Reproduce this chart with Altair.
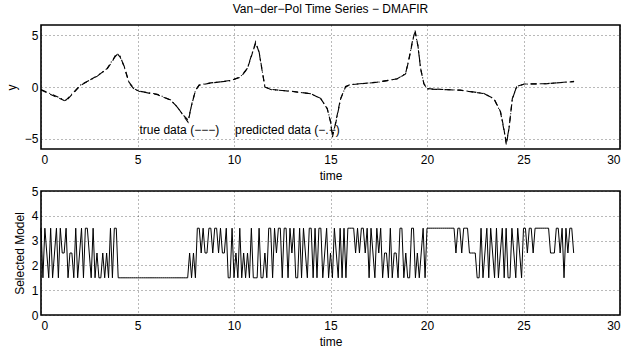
import altair as alt
import pandas as pd

# ---------------- top panel: Van-der-Pol time series ----------------
T_TIME = [0.0, 1.28, 2.05, 2.92, 3.43, 3.7, 3.92, 4.1, 4.3, 4.56, 4.82, 5.08,
          6.03, 6.72, 7.06, 7.41, 7.62, 7.84, 8.01, 8.19, 8.79, 9.82, 10.34,
          10.69, 10.91, 11.12, 11.3, 11.47, 11.6, 11.9, 12.93, 13.97, 14.49,
          14.83, 15.0, 15.1, 15.25, 15.52, 15.78, 16.04, 17.43, 18.46, 18.89,
          19.07, 19.24, 19.38, 19.53, 19.67, 19.84, 20.02, 21.74, 22.95, 23.47,
          23.81, 23.98, 24.11, 24.25, 24.42, 24.64, 25.03, 26.23, 27.62]
Y_TRUE = [-0.3, -1.37, 0.15, 1.1, 1.75, 2.5, 3.3, 2.9, 2.06, 0.47, -0.16, -0.42,
          -0.74, -1.28, -1.91, -2.87, -3.4, -1.43, -0.32, 0.16, 0.38, 0.63, 0.95,
          1.75, 3.02, 4.36, 3.34, 1.43, 0.0, -0.23, -0.42, -0.64, -1.12,
          -2.07, -3.4, -4.85, -3.6, -1.12, 0.0, 0.22, 0.47, 0.79, 1.27,
          2.7, 4.3, 5.5, 3.97, 1.75, 0.32, -0.16, -0.32, -0.64, -1.12,
          -2.39, -3.98, -5.6, -3.98, -1.12, 0.0, 0.29, 0.32, 0.54]
Y_PRED = [-0.25, -1.3, 0.2, 1.05, 1.8, 2.6, 3.1, 3.0, 2.0, 0.4, -0.2, -0.4,
          -0.7, -1.25, -1.95, -2.8, -3.2, -1.5, -0.3, 0.2, 0.4, 0.6, 1.0,
          1.8, 3.1, 4.2, 3.4, 1.5, 0.05, -0.25, -0.4, -0.66, -1.1,
          -2.1, -3.3, -4.6, -3.7, -1.2, 0.05, 0.25, 0.45, 0.8, 1.3,
          2.8, 4.4, 5.3, 4.0, 1.8, 0.3, -0.2, -0.3, -0.62, -1.15,
          -2.45, -4.1, -5.4, -4.0, -1.2, 0.05, 0.27, 0.33, 0.52]

# ---------------- bottom panel: selected model (sampled every 0.1 time units) ----------------
MODEL_STEP = 0.1
MODEL_ROWS = [
    [3, 1, 3, 2, 1, 3, 1, 2, 3, 1],   # 0.0 - 0.9
    [3, 2, 2, 3, 1, 2, 2, 1, 3, 1],   # 1
    [2, 3, 1, 3, 3, 2, 1, 3, 1, 2],   # 2
    [1, 1, 2, 1, 2, 1, 3, 1, 3, 3],   # 3
    [1, 1, 1, 1, 1, 1, 1, 1, 1, 1],   # 4
    [1, 1, 1, 1, 1, 1, 1, 1, 1, 1],   # 5
    [1, 1, 1, 1, 1, 1, 1, 1, 1, 1],   # 6
    [1, 1, 1, 1, 1, 1, 1, 2, 1, 2],   # 7
    [1, 3, 3, 2, 3, 2, 2, 3, 3, 2],   # 8
    [3, 3, 2, 3, 2, 2, 3, 1, 1, 3],   # 9
    [1, 2, 1, 3, 1, 2, 1, 2, 1, 3],   # 10
    [1, 1, 1, 3, 1, 1, 2, 1, 3, 3],   # 11
    [1, 3, 2, 3, 3, 1, 3, 3, 1, 3],   # 12
    [2, 3, 1, 1, 3, 1, 3, 2, 1, 3],   # 13
    [3, 1, 3, 1, 3, 3, 1, 2, 3, 1],   # 14
    [2, 1, 3, 2, 1, 3, 1, 3, 1, 3],   # 15
    [3, 3, 3, 2, 3, 2, 3, 3, 2, 3],   # 16
    [1, 3, 2, 1, 3, 2, 3, 1, 2, 2],   # 17
    [1, 3, 1, 2, 2, 1, 3, 3, 1, 2],   # 18
    [1, 1, 3, 3, 1, 2, 1, 2, 3, 1],   # 19
    [3, 3, 3, 3, 3, 3, 3, 3, 3, 3],   # 20
    [3, 3, 3, 3, 3, 2, 3, 3, 2, 3],   # 21
    [3, 3, 2, 2, 2, 2, 1, 1, 3, 1],   # 22
    [2, 3, 1, 3, 2, 1, 3, 1, 2, 3],   # 23
    [1, 3, 1, 1, 3, 2, 1, 3, 2, 1],   # 24
    [3, 3, 2, 3, 3, 2, 3, 3, 3, 3],   # 25
    [3, 3, 3, 3, 2, 2, 2, 3, 3, 2],   # 26
    [3, 1, 3, 2, 3, 3, 2],            # 27.0 - 27.6
]
LEVEL = {1: 1.5, 2: 2.5, 3: 3.5}

X_TICKS = [0, 5, 10, 15, 20, 25, 30]
Y_TICKS_TOP = [-5, 0, 5]
Y_TICKS_BOT = [0, 1, 2, 3, 4, 5]

FONT = "Liberation Sans"

df_true = pd.DataFrame({"t": T_TIME, "y": Y_TRUE})
df_pred = pd.DataFrame({"t": T_TIME, "y": Y_PRED})
flat = [LEVEL[v] for row in MODEL_ROWS for v in row]
df_model = pd.DataFrame({"t": [round(i * MODEL_STEP, 2) for i in range(len(flat))], "m": flat})

W, H = 579, 124
grid_kw = dict(grid=True, gridDash=[1, 3], gridColor="#000000", gridOpacity=0.55,
               ticks=False, domain=False, labelFont=FONT, labelFontSize=12,
               labelColor="black", titleFont=FONT, titleFontSize=12,
               titleFontWeight="normal", titleColor="black")

x_top = alt.X("t:Q", scale=alt.Scale(domain=[0, 30], nice=False),
              axis=alt.Axis(values=X_TICKS, title="time", labelPadding=5, titlePadding=5, **grid_kw))
y_top = alt.Y("y:Q", scale=alt.Scale(domain=[-6, 6], nice=False),
              axis=alt.Axis(values=Y_TICKS_TOP, title="y", labelPadding=3, titlePadding=6, **grid_kw))

true_line = alt.Chart(df_true).mark_line(color="black", strokeWidth=1.1, strokeDash=[6, 4]).encode(x=x_top, y=y_top)
pred_line = alt.Chart(df_pred).mark_line(color="black", strokeWidth=1.1, strokeDash=[6, 3, 1, 3]).encode(x=x_top, y=y_top)

txt1 = alt.Chart(pd.DataFrame({"t": [5.1], "y": [-4.15], "s": ["true data (−−−)"]})).mark_text(
    align="left", baseline="middle", font=FONT, fontSize=12, color="black").encode(x=x_top, y=y_top, text="s:N")
txt2 = alt.Chart(pd.DataFrame({"t": [10.05], "y": [-4.15], "s": ["predicted data (−.−)"]})).mark_text(
    align="left", baseline="middle", font=FONT, fontSize=12, color="black").encode(x=x_top, y=y_top, text="s:N")

top = alt.layer(true_line, pred_line, txt1, txt2).properties(
    width=W, height=H,
    title=alt.TitleParams("Van−der−Pol Time Series − DMAFIR", font=FONT, fontSize=12,
                          fontWeight="normal", color="black", offset=9))

x_bot = alt.X("t:Q", scale=alt.Scale(domain=[0, 30], nice=False),
              axis=alt.Axis(values=X_TICKS, title="time", labelPadding=5, titlePadding=5, **grid_kw))
y_bot = alt.Y("m:Q", scale=alt.Scale(domain=[0, 5], nice=False),
              axis=alt.Axis(values=Y_TICKS_BOT, title="Selected Model", labelPadding=3, titlePadding=5, **grid_kw))

bottom = alt.Chart(df_model).mark_line(color="black", strokeWidth=1).encode(x=x_bot, y=y_bot).properties(width=W, height=H)

chart = alt.vconcat(top, bottom, spacing=2).properties(
    padding={"left": 4, "top": 2, "right": 5, "bottom": 2},
    background="white"
).configure_view(stroke="black", strokeWidth=1.6)

chart.save("out.html", embed_options={"renderer": "svg", "actions": False})
